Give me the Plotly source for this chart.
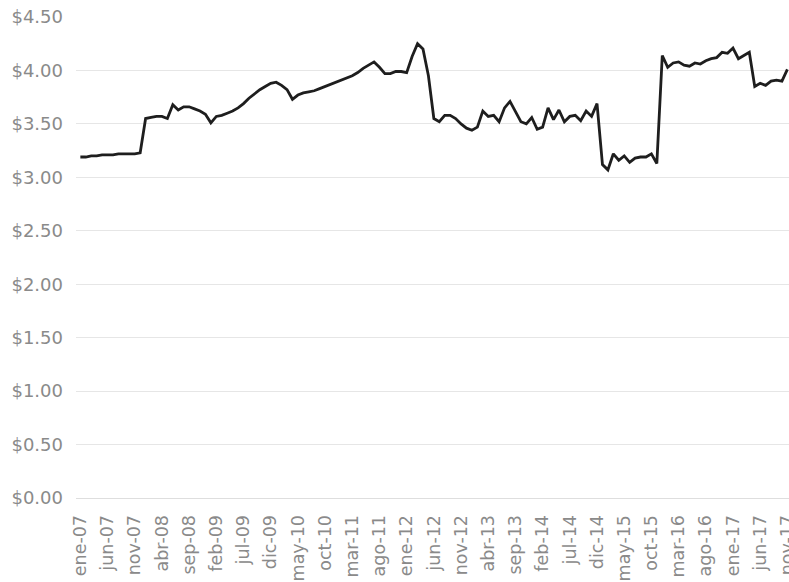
import plotly.graph_objects as go

# monthly labels, ene-07 .. nov-17
month_names = ["ene", "feb", "mar", "abr", "may", "jun",
               "jul", "ago", "sep", "oct", "nov", "dic"]
years = list(range(7, 18))

months = [f"{m}-{y:02d}" for y in years for m in month_names][:131]

prices = [
    3.19, 3.19, 3.20, 3.20, 3.21, 3.21, 3.21, 3.22, 3.22, 3.22, 3.22, 3.23,
    3.55, 3.56, 3.57, 3.57, 3.55, 3.68, 3.63, 3.66, 3.66, 3.64, 3.62, 3.59,
    3.51, 3.57, 3.58, 3.60, 3.62, 3.65, 3.69, 3.74, 3.78, 3.82, 3.85, 3.88,
    3.89, 3.86, 3.82, 3.73, 3.77, 3.79, 3.80, 3.81, 3.83, 3.85, 3.87, 3.89,
    3.91, 3.93, 3.95, 3.98, 4.02, 4.05, 4.08, 4.03, 3.97, 3.97, 3.99, 3.99,
    3.98, 4.13, 4.25, 4.20, 3.95, 3.55, 3.52, 3.58, 3.58, 3.55, 3.50, 3.46,
    3.44, 3.47, 3.62, 3.57, 3.58, 3.52, 3.65, 3.71, 3.61, 3.52, 3.50, 3.56,
    3.45, 3.47, 3.65, 3.54, 3.63, 3.52, 3.57, 3.58, 3.53, 3.62, 3.57, 3.69,
    3.12, 3.07, 3.22, 3.16, 3.20, 3.14, 3.18, 3.19, 3.19, 3.22, 3.13, 4.14,
    4.03, 4.07, 4.08, 4.05, 4.04, 4.07, 4.06, 4.09, 4.11, 4.12, 4.17, 4.16,
    4.21, 4.11, 4.14, 4.17, 3.85, 3.88, 3.86, 3.90, 3.91, 3.90, 4.01,
]

tick_labels = months[::5]
y_ticks = [0, 0.5, 1.0, 1.5, 2.0, 2.5, 3.0, 3.5, 4.0, 4.5]

fig = go.Figure()
fig.add_trace(go.Scatter(
    x=months,
    y=prices,
    mode="lines",
    line=dict(color="#1e1e1e", width=2.8),
    showlegend=False,
))

fig.update_layout(
    width=789,
    height=582,
    margin=dict(l=76, r=0, t=17, b=84),
    paper_bgcolor="white",
    plot_bgcolor="white",
    font=dict(family="DejaVu Sans", color="#8a8a8a"),
    xaxis=dict(
        type="category",
        range=[-0.8, 130.3],
        tickvals=tick_labels,
        ticktext=tick_labels,
        tickangle=-90,
        tickfont=dict(size=17.5),
        showgrid=False,
        showline=True,
        linecolor="#dedede",
        ticks="",
        ticklabelstandoff=9,
        automargin=False,  # last label is cut at the right edge, as in the source
    ),
    yaxis=dict(
        range=[0, 4.5],
        tickvals=y_ticks,
        ticktext=[f"${v:.2f}" for v in y_ticks],
        tickfont=dict(size=18),
        gridcolor="#e6e6e6",
        gridwidth=1,
        zeroline=False,
        ticklabelstandoff=12,
        ticklabeloverflow="allow",
        automargin=False,
    ),
)

# drop the default body margin so the figure sits at the page corner
fig.write_html(
    "out.html",
    config={"displayModeBar": False},
    post_script="document.body.style.margin='0';",
)
